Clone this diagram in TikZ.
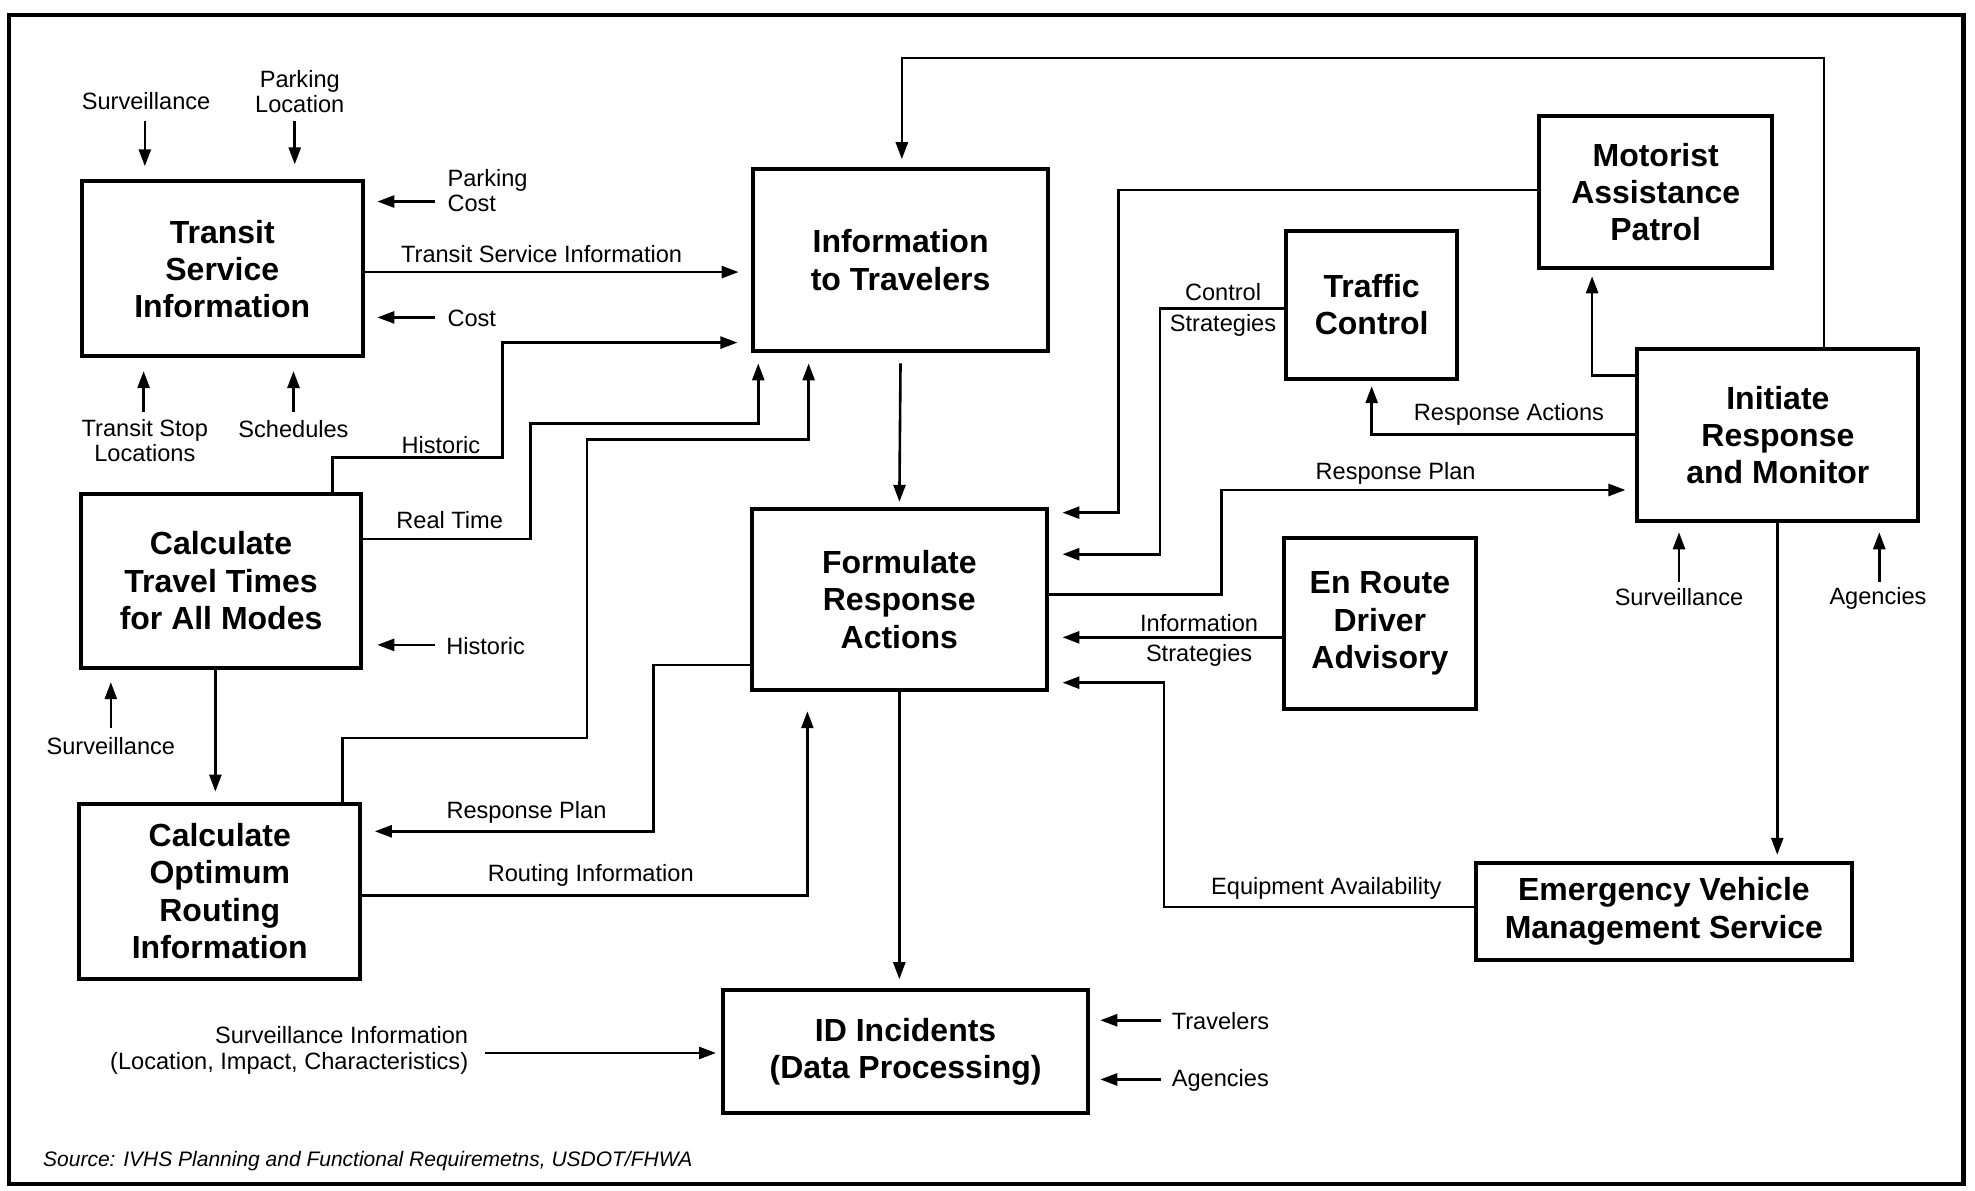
\documentclass[tikz,border=0pt]{standalone}
\usepackage{fontspec}
\setmainfont{Liberation Sans}
\usetikzlibrary{arrows.meta}
\begin{document}
\begin{tikzpicture}[x=0.63pt,y=-0.63pt,
  box/.style={draw, line width=2pt, align=center, inner sep=0pt,
    font=\bfseries\fontsize{16}{18.6}\selectfont},
  lbl/.style={inner sep=0pt, align=center, font=\fontsize{11.8}{12.6}\selectfont},
  lbll/.style={lbl, align=left, anchor=west},
  lblr/.style={lbl, align=right, anchor=east},
  wire/.style={line width=1.3pt},
  arr/.style={line width=1.3pt, -{Triangle[length=8.5pt,width=6pt]}},
]
\useasboundingbox (0,0) rectangle (1568,945);
\draw[line width=2.2pt] (7,12) rectangle (1559,940);

% ---------------- boxes ----------------
\node[box, minimum width=223*0.63pt, minimum height=139*0.63pt] (tsi) at (176.5,213.5) {Transit\\Service\\Information};
\node[box, minimum width=234*0.63pt, minimum height=145*0.63pt] (itt) at (715,206.5) {Information\\to Travelers};
\node[box, minimum width=136*0.63pt, minimum height=118*0.63pt] (tc) at (1089,242) {Traffic\\Control};
\node[box, minimum width=185*0.63pt, minimum height=121*0.63pt] (map) at (1314.5,152.5) {Motorist\\Assistance\\Patrol};
\node[box, minimum width=223*0.63pt, minimum height=137*0.63pt] (irm) at (1411.5,345.5) {Initiate\\Response\\and Monitor};
\node[box, minimum width=223*0.63pt, minimum height=138*0.63pt] (ctt) at (175.5,461) {Calculate\\Travel Times\\for All Modes};
\node[box, minimum width=234*0.63pt, minimum height=144*0.63pt] (fra) at (714,476) {Formulate\\Response\\Actions};
\node[box, minimum width=153*0.63pt, minimum height=136*0.63pt] (erd) at (1095.5,495) {En Route\\Driver\\Advisory};
\node[box, minimum width=223*0.63pt, minimum height=139*0.63pt] (cori) at (174.5,707.5) {Calculate\\Optimum\\Routing\\Information};
\node[box, minimum width=298*0.63pt, minimum height=77*0.63pt] (evms) at (1321,723.5) {Emergency Vehicle\\Management Service};
\node[box, minimum width=290*0.63pt, minimum height=98*0.63pt] (idi) at (719,835) {ID Incidents\\(Data Processing)};

% ---------------- external labels ----------------
\node[lbl] (sv1) at (116,80) {Surveillance};
\node[lbl] (ploc) at (238,73) {Parking\\Location};
\node[lbll] (pcost) at (355,151) {Parking\\Cost};
\node[lbll] (cost) at (355,253) {Cost};
\node[lbl] (tsl) at (115,350) {Transit Stop\\Locations};
\node[lbl] (sch) at (233,341) {Schedules};
\node[lbll] (hist2) at (354,513) {Historic};
\node[lbl] (sv2) at (88,592) {Surveillance};
\node[lbl] (sv3) at (1333,474) {Surveillance};
\node[lbl] (ag1) at (1491,475) {Agencies};
\node[lblr] (svinfo) at (372,834) {Surveillance Information\\(Location, Impact, Characteristics)};
\node[lbll] (trav) at (930,811) {Travelers};
\node[lbll] (ag2) at (930,858) {Agencies};
\node[lbll, font=\itshape\fontsize{10.5}{12.6}\selectfont] (src) at (34,922) {Source: IVHS Planning and Functional Requiremetns, USDOT/FHWA};

% ---------------- connector labels ----------------
\node[lbl] (l1) at (430,202) {Transit Service Information};
\node[lbl] (l2) at (350,353) {Historic};
\node[lbl] (l3) at (357,413) {Real Time};
\node[lbl] (l4) at (418,645) {Response Plan};
\node[lbl] (l5) at (469,695) {Routing Information};
\node[lbl] (l6) at (971,232) {Control};
\node[lbl] (l7) at (971,258) {Strategies};
\node[lbl] (l8) at (1108,376) {Response Plan};
\node[lbl] (l9) at (952,495) {Information};
\node[lbl] (l10) at (952,520) {Strategies};
\node[lbl] (l11) at (1053,705) {Equipment Availability};
\node[lbl] (l12) at (1198,329) {Response Actions};

% ---------------- short input arrows ----------------
\draw[arr] (sv1.south -| 115,0) ++(0,9) -- (115,132);
\draw[arr] (234,96) -- (tsi.north -| 234,0) [shorten >=7.5pt];
\draw[arr, shorten >=6.3pt] (pcost.west |- 0,160) ++(-10,0) -- (tsi.east |- 0,160);
\draw[arr, shorten >=6.3pt] (cost.west |- 0,252) ++(-10,0) -- (tsi.east |- 0,252);
\draw[arr, shorten >=6.3pt] (114,327) -- (tsi.south -| 114,0);
\draw[arr, shorten >=6.3pt] (233,327) -- (tsi.south -| 233,0);
\draw[arr, shorten >=6.9pt] (hist2.west |- 0,512) ++(-9,0) -- (ctt.east |- 0,512);
\draw[arr, shorten >=6.3pt] (88,578) -- (ctt.south -| 88,0);
\draw[arr, shorten >=4.4pt] (1333,462) -- (irm.south -| 1333,0);
\draw[arr, shorten >=4.4pt] (1492,462) -- (irm.south -| 1492,0);
\draw[arr, shorten >=2.5pt] (385,836) -- (idi.west |- 0,836);
\draw[arr, shorten >=5pt] (trav.west |- 0,810) ++(-8,0) -- (idi.east |- 0,810);
\draw[arr, shorten >=5pt] (ag2.west |- 0,857) ++(-8,0) -- (idi.east |- 0,857);

% ---------------- connectors ----------------
\draw[arr, shorten >=6.3pt] (tsi.east |- 0,216) -- (itt.west |- 0,216);
\draw[arr, shorten >=6.9pt] (ctt.north -| 264,0) -- (264,363) -- (399,363) -- (399,272) -- (itt.west |- 0,272);
\draw[arr, shorten >=5pt] (ctt.east |- 0,428) -- (421,428) -- (421,336) -- (602,336) -- (itt.south -| 602,0);
\draw[arr, shorten >=5pt] (cori.north -| 272,0) -- (272,586) -- (466,586) -- (466,349) -- (642,349) -- (itt.south -| 642,0);
\draw[arr, shorten >=5pt] (ctt.south -| 171,0) -- (cori.north -| 171,0);
\draw[arr, shorten >=6.3pt] (fra.west |- 0,528) -- (519,528) -- (519,660) -- (cori.east |- 0,660);
\draw[arr, shorten >=9.5pt] (cori.east |- 0,711) -- (641,711) -- (fra.south -| 641,0);
\draw[arr, shorten <=5pt, shorten >=2.5pt] (itt.south) -- (fra.north);
\draw[arr, shorten >=3.8pt] (irm.north -| 1448,0) -- (1448,46) -- (716,46) -- (itt.north -| 716,0);
\draw[arr, shorten >=6.9pt] (map.west |- 0,151) -- (888,151) -- (888,407) -- (fra.east |- 0,407);
\draw[arr, shorten >=6.9pt] (tc.west |- 0,245) -- (921,245) -- (921,440) -- (fra.east |- 0,440);
\draw[arr, shorten >=5pt] (fra.east |- 0,472) -- (970,472) -- (970,389) -- (irm.west |- 0,389);
\draw[arr, shorten >=6.9pt] (erd.west |- 0,506) -- (fra.east |- 0,506);
\draw[arr, shorten >=6.9pt] (evms.west |- 0,720) -- (924,720) -- (924,542) -- (fra.east |- 0,542);
\draw[arr, shorten >=2.5pt] (irm.west |- 0,345) -- (1089,345) -- (tc.south -| 1089,0);
\draw[arr, shorten >=3pt] (irm.west |- 0,298) -- (1264,298) -- (map.south -| 1264,0);
\draw[arr, shorten >=3pt] (irm.south -| 1411,0) -- (evms.north -| 1411,0);
\draw[arr, shorten >=4.4pt] (fra.south) -- (idi.north -| fra.south);
\end{tikzpicture}
\end{document}
